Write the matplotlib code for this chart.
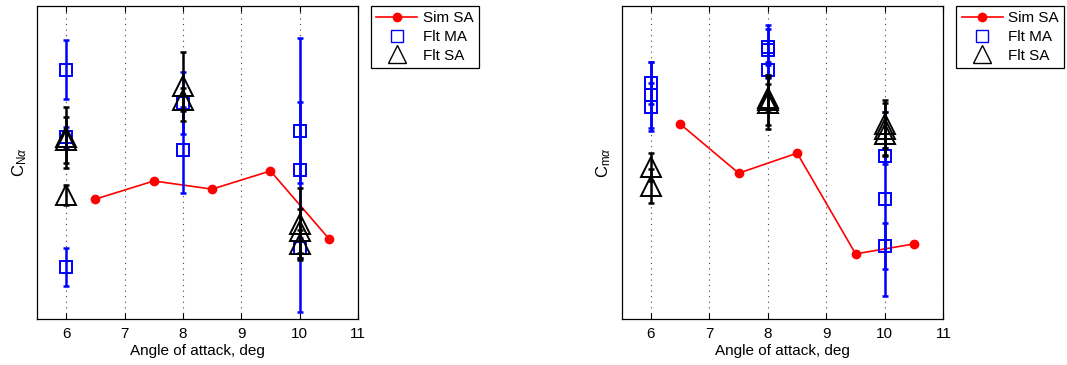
import numpy as np
import matplotlib
matplotlib.use("Agg")
import matplotlib.pyplot as plt
from matplotlib.lines import Line2D

plt.rcParams['font.family'] = ['Liberation Sans', 'DejaVu Sans']
plt.rcParams['mathtext.fontset'] = 'custom'
plt.rcParams['mathtext.rm'] = 'Liberation Sans'
plt.rcParams['mathtext.it'] = 'Liberation Sans:italic'

# simulation, single axis
aoa_sim = [6.5, 7.5, 8.5, 9.5, 10.5]
cn_sim = [3.83, 4.41, 4.15, 4.73, 2.57]
cm_sim = [6.23, 4.66, 5.30, 2.08, 2.40]

# flight, multi axis (value, lower err, upper err)
cn_ma_aoa = [6, 6, 6, 8, 8, 10, 10, 10]
cn_ma = [7.96, 5.80, 1.66, 6.90, 5.40, 6.01, 4.76, 2.27]
cn_ma_lo = [0.94, 0.35, 0.62, 0.99, 1.37, 1.66, 4.55, 0.32]
cn_ma_hi = [0.94, 0.35, 0.62, 0.99, 1.37, 0.93, 4.22, 0.32]

cm_ma_aoa = [6, 6, 6, 8, 8, 8, 10, 10, 10]
cm_ma = [7.54, 7.16, 6.78, 8.60, 8.69, 7.96, 5.21, 3.84, 2.34]
cm_ma_lo = [0.67, 1.05, 0.77, 0.80, 0.57, 0.26, 0.26, 3.10, 0.73]
cm_ma_hi = [0.67, 1.05, 0.77, 0.80, 0.57, 0.26, 0.26, 2.78, 0.73]

# flight, single axis
cn_sa_aoa = [6, 6, 6, 8, 8, 10, 10, 10]
cn_sa = [5.81, 5.72, 3.96, 7.43, 7.00, 3.04, 2.81, 2.40]
cn_sa_err = [0.97, 0.72, 0.32, 1.10, 0.37, 1.15, 0.70, 0.45]

cm_sa_aoa = [6, 6, 8, 8, 8, 10, 10, 10]
cm_sa = [4.86, 4.25, 6.99, 6.90, 7.06, 6.23, 6.07, 5.91]
cm_sa_err = [0.45, 0.54, 0.80, 0.83, 0.45, 0.77, 0.83, 0.70]

xticks = [6, 7, 8, 9, 10, 11]
fs = 11


def draw_panel(ax, sim, ma_x, ma, ma_lo, ma_hi, sa_x, sa, sa_err, ylab):
    ax.plot(aoa_sim, sim, '-o', color='red', lw=1.2, ms=6, zorder=3)
    ax.errorbar(ma_x, ma, yerr=[ma_lo, ma_hi], fmt='none', ecolor='blue',
                elinewidth=1.8, capsize=2, capthick=1.8, zorder=4)
    ax.plot(ma_x, ma, 's', ms=9, mfc='none', mec='blue', mew=1.4, zorder=4)
    ax.errorbar(sa_x, sa, yerr=sa_err, fmt='none', ecolor='black',
                elinewidth=1.8, capsize=2, capthick=1.8, zorder=5)
    ax.plot(sa_x, sa, '^', ms=14, mfc='none', mec='black', mew=1.4, zorder=5)

    ax.set_xlim(5.5, 11)
    ax.set_ylim(0, 10)
    ax.set_xticks(xticks)
    ax.set_yticks([])
    ax.tick_params(axis='x', direction='in', top=True, length=4,
                   labelsize=fs, pad=6)
    ax.xaxis.grid(True, ls=(0, (1, 4)), color='#444444', lw=0.8)
    for s in ax.spines.values():
        s.set_linewidth(0.9)
    ax.set_xlabel('Angle of attack, deg', fontsize=fs, labelpad=2)
    ax.set_ylabel(ylab, fontsize=fs + 1, labelpad=6)

    handles = [
        Line2D([], [], color='red', marker='o', lw=1.2, ms=6),
        Line2D([], [], color='blue', marker='s', ls='none', ms=9,
               mfc='none', mew=1.0),
        Line2D([], [], color='black', marker='^', ls='none', ms=13,
               mfc='none', mew=1.0),
    ]
    leg = ax.legend(handles, ['Sim SA', 'Flt MA', 'Flt SA'], loc='upper left',
                    bbox_to_anchor=(1.04, 1.0), borderaxespad=0, fontsize=fs,
                    fancybox=False, framealpha=1, edgecolor='black',
                    handlelength=2.7, handletextpad=0.35, labelspacing=0.3,
                    borderpad=0.35)
    leg.get_frame().set_linewidth(0.9)


fig = plt.figure(figsize=(10.67, 3.65), dpi=100)
ax1 = fig.add_axes([0.0347, 0.126, 0.3008, 0.8575])
ax2 = fig.add_axes([0.5827, 0.126, 0.3014, 0.8575])

draw_panel(ax1, cn_sim, cn_ma_aoa, cn_ma, cn_ma_lo, cn_ma_hi,
           cn_sa_aoa, cn_sa, cn_sa_err, r'C$_{\mathrm{N}\alpha}$')
draw_panel(ax2, cm_sim, cm_ma_aoa, cm_ma, cm_ma_lo, cm_ma_hi,
           cm_sa_aoa, cm_sa, cm_sa_err, r'C$_{\mathrm{m}\alpha}$')

fig.savefig('out.png', dpi=100)
